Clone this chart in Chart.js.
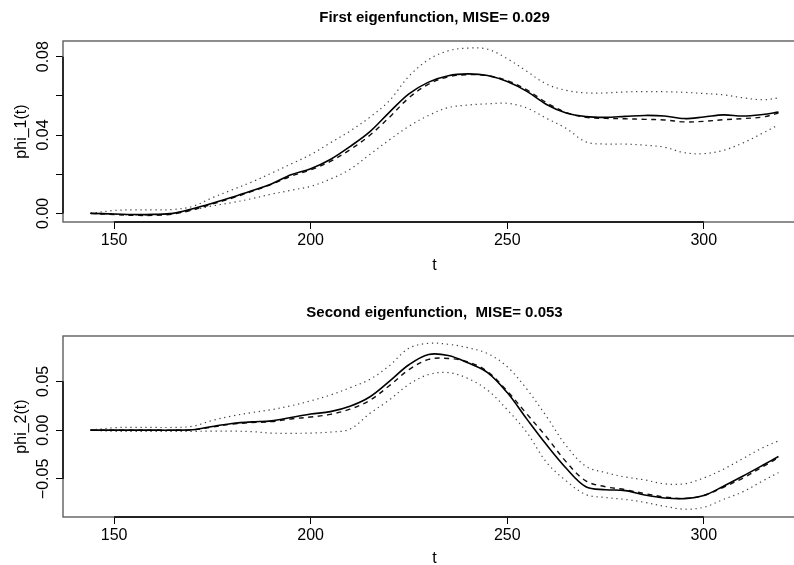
<!DOCTYPE html>
<html>
<head>
<meta charset="utf-8">
<script src="https://cdn.jsdelivr.net/npm/chart.js@4.4.0/dist/chart.umd.min.js"></script>
<style>
  html, body { margin: 0; padding: 0; background: #fff; overflow: hidden; width: 794px; height: 565px; }
  .panel { position: absolute; left: 0; }
  #top { top: 0; }
  #bottom { top: 295px; }
</style>
</head>
<body>
<div class="panel" id="top"><canvas id="c1" width="806" height="282"></canvas></div>
<div class="panel" id="bottom"><canvas id="c2" width="806" height="280"></canvas></div>
<script>
// time grid (t) shared by all curves
const t = [144, 150, 155, 160, 165, 170, 175, 180, 185, 190, 195, 200, 205, 210, 215, 220, 225, 230,
  235, 240, 245, 250, 255, 260, 265, 270, 275, 280, 285, 290, 295, 300, 305, 310, 315, 319]

// first eigenfunction
const phi1Solid = [0.0000, -0.0003, -0.0006, -0.0005, 0.0000, 0.0024, 0.0052, 0.0082, 0.0115, 0.0150, 0.0197, 0.0228,
  0.0275, 0.0341, 0.0416, 0.0516, 0.0610, 0.0670, 0.0703, 0.0712, 0.0704, 0.0673, 0.0623, 0.0556,
  0.0512, 0.0494, 0.0490, 0.0495, 0.0500, 0.0497, 0.0484, 0.0492, 0.0503, 0.0497, 0.0505, 0.0517]
const phi1Dashed = [0.0000, -0.0006, -0.0010, -0.0010, -0.0003, 0.0018, 0.0048, 0.0078, 0.0112, 0.0148, 0.0190, 0.0222,
  0.0265, 0.0325, 0.0398, 0.0490, 0.0590, 0.0660, 0.0697, 0.0708, 0.0703, 0.0678, 0.0630, 0.0565,
  0.0515, 0.0490, 0.0485, 0.0483, 0.0480, 0.0477, 0.0467, 0.0470, 0.0478, 0.0484, 0.0492, 0.0512]
const phi1Upper = [0.0000, 0.0015, 0.0018, 0.0018, 0.0020, 0.0036, 0.0080, 0.0120, 0.0160, 0.0205, 0.0252, 0.0300,
  0.0360, 0.0420, 0.0490, 0.0575, 0.0700, 0.0785, 0.0830, 0.0844, 0.0838, 0.0790, 0.0725, 0.0660,
  0.0628, 0.0615, 0.0615, 0.0620, 0.0622, 0.0621, 0.0618, 0.0612, 0.0605, 0.0590, 0.0580, 0.0589]
const phi1Lower = [0.0000, -0.0005, -0.0008, -0.0008, -0.0002, 0.0018, 0.0038, 0.0055, 0.0075, 0.0098, 0.0118, 0.0138,
  0.0175, 0.0225, 0.0300, 0.0375, 0.0445, 0.0500, 0.0540, 0.0553, 0.0559, 0.0562, 0.0538, 0.0485,
  0.0434, 0.0365, 0.0354, 0.0354, 0.0348, 0.0338, 0.0310, 0.0305, 0.0322, 0.0360, 0.0410, 0.0452]

// second eigenfunction
const phi2Solid = [0.0000, 0.0000, 0.0000, 0.0000, 0.0000, 0.0004, 0.0038, 0.0068, 0.0085, 0.0095, 0.0130, 0.0165,
  0.0190, 0.0245, 0.0340, 0.0500, 0.0670, 0.0775, 0.0765, 0.0690, 0.0590, 0.0385, 0.0113, -0.0150,
  -0.0390, -0.0580, -0.0610, -0.0620, -0.0665, -0.0695, -0.0702, -0.0670, -0.0575, -0.0470, -0.0360, -0.0270]
const phi2Dashed = [0.0000, 0.0000, 0.0000, 0.0000, 0.0000, 0.0002, 0.0032, 0.0062, 0.0078, 0.0087, 0.0115, 0.0135,
  0.0162, 0.0215, 0.0305, 0.0455, 0.0620, 0.0725, 0.0735, 0.0700, 0.0600, 0.0400, 0.0165, -0.0070,
  -0.0325, -0.0520, -0.0580, -0.0610, -0.0650, -0.0685, -0.0700, -0.0670, -0.0585, -0.0490, -0.0375, -0.0280]
const phi2Upper = [0.0000, 0.0025, 0.0028, 0.0028, 0.0028, 0.0040, 0.0100, 0.0145, 0.0180, 0.0210, 0.0250, 0.0300,
  0.0360, 0.0435, 0.0520, 0.0660, 0.0840, 0.0890, 0.0880, 0.0845, 0.0785, 0.0650, 0.0420, 0.0140,
  -0.0160, -0.0370, -0.0435, -0.0480, -0.0510, -0.0550, -0.0550, -0.0490, -0.0400, -0.0290, -0.0180, -0.0110]
const phi2Lower = [0.0000, -0.0012, -0.0013, -0.0013, -0.0013, -0.0012, -0.0010, -0.0010, -0.0015, -0.0030, -0.0032, -0.0030,
  -0.0020, 0.0010, 0.0170, 0.0310, 0.0470, 0.0570, 0.0590, 0.0530, 0.0410, 0.0210, -0.0024, -0.0330,
  -0.0520, -0.0660, -0.0690, -0.0710, -0.0740, -0.0780, -0.0810, -0.0790, -0.0710, -0.0630, -0.0520, -0.0435]

// ticks
const xTicks = [150, 200, 250, 300]
const y1Ticks = [0, 0.02, 0.04, 0.06, 0.08]
const y1Labelled = [0, 0.04, 0.08]
const y1Labels = ['0.00', '0.04', '0.08']
const y2Ticks = [-0.05, 0, 0.05]
const y2Labels = ['\u22120.05', '0.00', '0.05']

const FONT = '"Liberation Sans", Arial, Helvetica, sans-serif'

// box, R-style axis lines and vertical y tick labels
const rframe = {
  id: 'rframe',
  afterDraw (chart, args, opts) {
    const { ctx, chartArea: a, scales: { x, y } } = chart
    ctx.save()
    ctx.strokeStyle = '#5e5e5e'
    ctx.lineWidth = 1.4
    ctx.strokeRect(a.left, a.top, a.right - a.left, a.bottom - a.top)
    ctx.strokeStyle = '#000'
    ctx.beginPath()
    ctx.moveTo(x.getPixelForValue(xTicks[0]), a.bottom)
    ctx.lineTo(x.getPixelForValue(xTicks[xTicks.length - 1]), a.bottom)
    ctx.moveTo(a.left, y.getPixelForValue(opts.ticks[0]))
    ctx.lineTo(a.left, y.getPixelForValue(opts.ticks[opts.ticks.length - 1]))
    ctx.stroke()
    ctx.fillStyle = '#000'
    ctx.font = '16px ' + FONT
    ctx.textAlign = 'center'
    ctx.textBaseline = 'middle'
    opts.values.forEach((v, i) => {
      ctx.save()
      ctx.translate(43.5, y.getPixelForValue(v))
      ctx.rotate(-Math.PI / 2)
      ctx.fillText(opts.labels[i], 0, 0)
      ctx.restore()
    })
    ctx.restore()
  }
}

function series (ys) {
  return t.map((v, i) => ({ x: v, y: ys[i] }))
}

function makeChart (id, title, ylabel, curves, ymin, ymax, yTicks, yValues, yLabels, xHeight) {
  const line = { pointRadius: 0, fill: false, tension: 0.35 }
  return new Chart(document.getElementById(id).getContext('2d'), {
    type: 'line',
    data: {
      datasets: [
        { ...line, data: series(curves[0]), borderColor: '#000', borderWidth: 1.6 },
        { ...line, data: series(curves[1]), borderColor: '#111', borderWidth: 1.4, borderDash: [5, 4.5] },
        { ...line, data: series(curves[2]), borderColor: '#444', borderWidth: 1.2, borderDash: [1.3, 3.7] },
        { ...line, data: series(curves[3]), borderColor: '#444', borderWidth: 1.2, borderDash: [1.3, 3.7] }
      ]
    },
    options: {
      responsive: false,
      animation: false,
      layout: { padding: 0 },
      plugins: {
        legend: { display: false },
        tooltip: { enabled: false },
        title: {
          display: true,
          text: title,
          fullSize: false,
          color: '#000',
          font: { family: FONT, size: 15, weight: 'bold' },
          padding: { top: 9, bottom: 14 }
        },
        rframe: { ticks: yTicks, values: yValues, labels: yLabels }
      },
      scales: {
        x: {
          type: 'linear',
          min: 137,
          max: 326,
          afterBuildTicks: (s) => { s.ticks = xTicks.map((v) => ({ value: v })) },
          afterFit: (s) => { s.height = xHeight },
          border: { display: false },
          grid: { drawOnChartArea: false, drawTicks: true, tickLength: 7, color: '#000' },
          ticks: { color: '#000', padding: 2, font: { family: FONT, size: 16 }, maxRotation: 0 },
          title: { display: true, text: 't', color: '#000', font: { family: FONT, size: 16 }, padding: { top: 0, bottom: 7 } }
        },
        y: {
          min: ymin,
          max: ymax,
          afterBuildTicks: (s) => { s.ticks = yTicks.map((v) => ({ value: v })) },
          afterFit: (s) => { s.width = 63 },
          border: { display: false },
          grid: { drawOnChartArea: false, drawTicks: true, tickLength: 7, color: '#000' },
          ticks: { display: false },
          title: { display: true, text: ylabel, color: '#000', font: { family: FONT, size: 16 }, padding: { top: 12, bottom: 0 } }
        }
      }
    },
    plugins: [rframe]
  })
}

makeChart('c1', 'First eigenfunction, MISE= 0.029', 'phi_1(t)',
  [phi1Solid, phi1Dashed, phi1Upper, phi1Lower], -0.0044, 0.088, y1Ticks, y1Labelled, y1Labels, 60)
makeChart('c2', 'Second eigenfunction,  MISE= 0.053', 'phi_2(t)',
  [phi2Solid, phi2Dashed, phi2Upper, phi2Lower], -0.089, 0.0965, y2Ticks, y2Ticks, y2Labels, 58)
</script>
</body>
</html>
